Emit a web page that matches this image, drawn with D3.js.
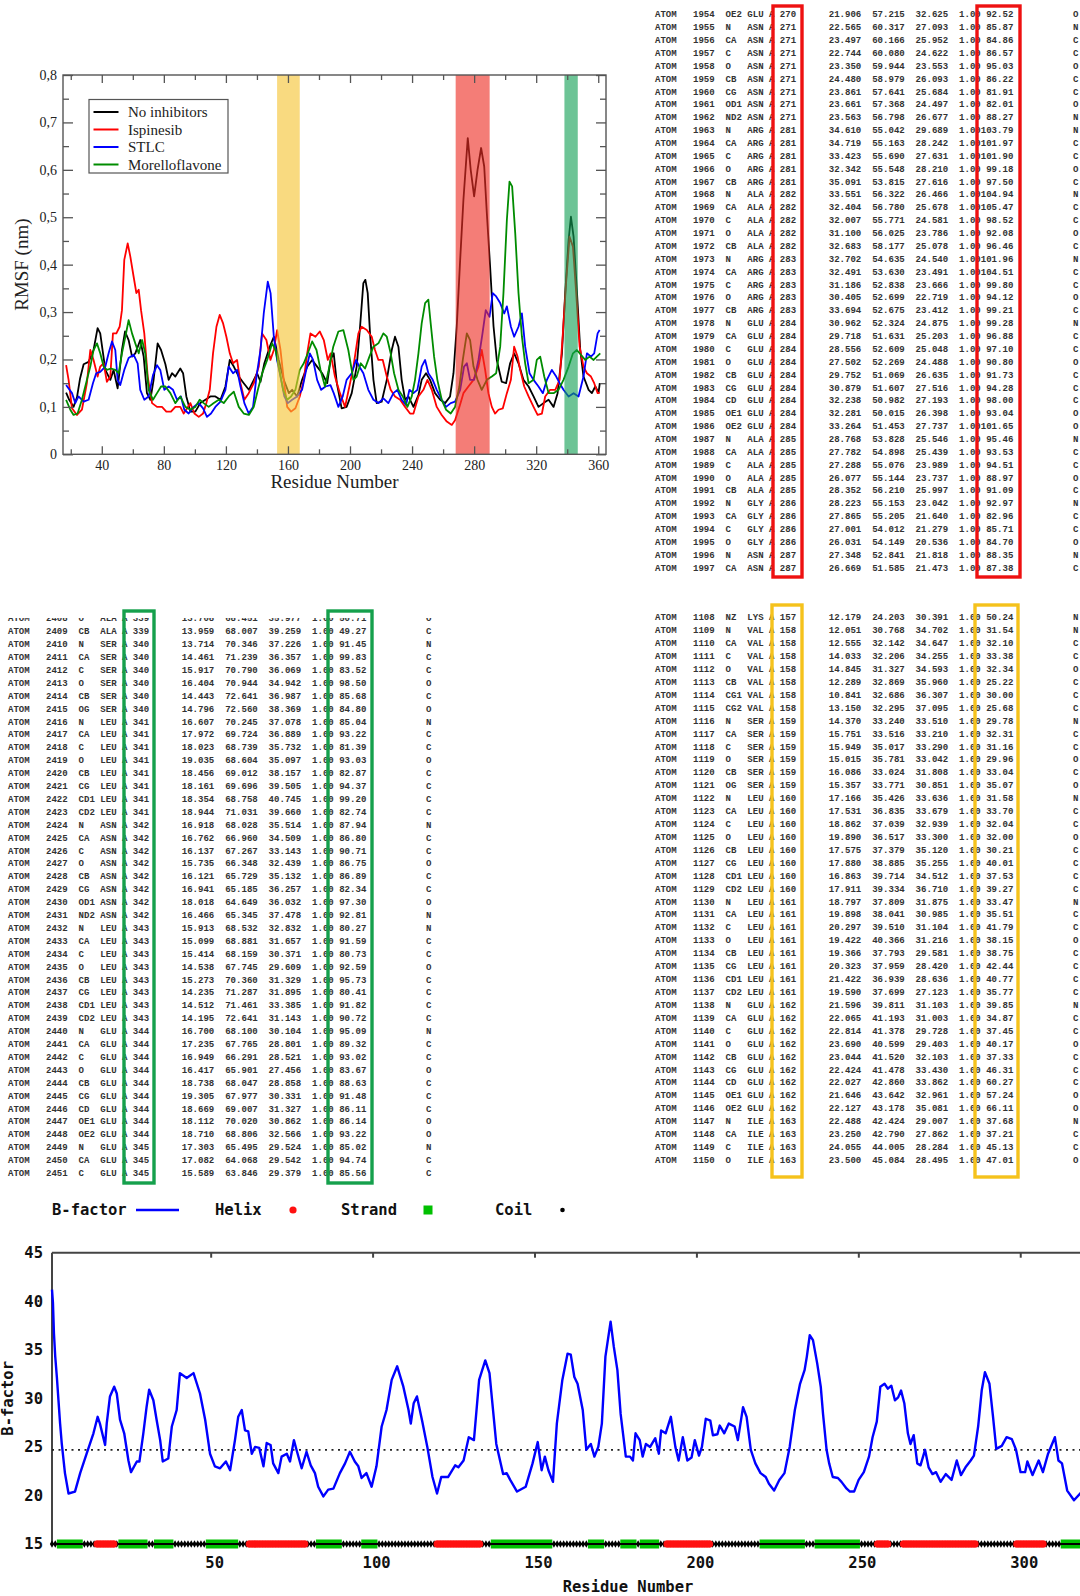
<!DOCTYPE html>
<html>
<head>
<meta charset="utf-8">
<script src="https://cdn.jsdelivr.net/npm/d3@7"></script>
<style>
  body { margin: 0; background: #fff; }
</style>
</head>
<body>
<div id="chart"></div>
<script>
// ---- RMSF per residue (residue, nm) ----
const noInhibitors = [
  [17,0.13],[19,0.115],[21.8,0.10],[24,0.12],[26,0.16],[28.3,0.19],[31.5,0.195],[34.7,0.22],[37.3,0.266],[39,0.255],
  [42.3,0.178],[45.5,0.157],[47.6,0.178],[50.2,0.139],[53,0.22],[55,0.259],[57.3,0.241],[59.5,0.206],[61.6,0.213],[64.8,0.241],
  [67,0.206],[69.1,0.129],[71.3,0.115],[73.4,0.157],[76,0.234],[78.2,0.22],[81,0.19],[83.1,0.157],[85.3,0.171],[87.4,0.164],
  [90.6,0.181],[92.4,0.171],[94.5,0.122],[97.1,0.09],[100.3,0.09],[103.5,0.108],[106.8,0.115],[110,0.122],[113.2,0.122],[116.5,0.115],
  [119.7,0.143],[122.5,0.199],[125.1,0.185],[128.3,0.164],[131.5,0.15],[134.8,0.136],[138,0.157],[140.1,0.171],[142.3,0.153],[144.8,0.192],
  [148.3,0.227],[150.9,0.248],[154.1,0.199],[157.3,0.157],[160.6,0.129],[162.7,0.136],[165.9,0.122],[169.1,0.157],[172.4,0.185],[175.6,0.199],
  [178.8,0.185],[182,0.171],[185.3,0.15],[187.5,0.2],[189.5,0.213],[191.5,0.15],[194.6,0.097],[197.8,0.10],[201.1,0.129],[204.3,0.185],
  [206.5,0.27],[208.6,0.361],[209.9,0.368],[211.4,0.34],[212.9,0.255],[215.1,0.157],[217.2,0.108],[220.4,0.111],[223.7,0.157],[226.9,0.22],
  [229,0.248],[231.2,0.227],[233.3,0.157],[235.5,0.115],[237.6,0.122],[240.9,0.10],[244.1,0.125],[246.2,0.157],[249,0.171],[251.6,0.157],
  [254.8,0.129],[258.1,0.115],[261.3,0.108],[264.5,0.122],[266.7,0.171],[268.8,0.27],[271,0.41],[273.1,0.537],[275.9,0.667],[277.8,0.60],
  [280,0.544],[282.2,0.60],[284.5,0.646],[286.5,0.607],[288.2,0.508],[290.3,0.396],[292.5,0.27],[294.6,0.199],[297.8,0.153],[300.6,0.15],
  [303.2,0.192],[305.8,0.213],[308.6,0.192],[311.8,0.157],[315.1,0.143],[318.3,0.122],[321.5,0.10],[324.7,0.108],[328,0.115],[331.2,0.10],
  [333.8,0.129],[336.6,0.213],[338.7,0.34],[340.9,0.452],[342.4,0.501],[344.1,0.459],[346.2,0.347],[348.4,0.22],[350.5,0.164],[353.8,0.136],
  [355.9,0.129],[358.1,0.143],[360.2,0.13],[361,0.15]
]
const ispinesib = [
  [17,0.188],[18.6,0.157],[20.8,0.097],[24,0.083],[27.2,0.094],[30.4,0.15],[32.6,0.22],[34.7,0.199],[37.3,0.164],[39,0.185],
  [41.2,0.192],[43.3,0.153],[45.5,0.164],[47.2,0.255],[49.4,0.255],[51.5,0.269],[53,0.304],[54.5,0.41],[56.7,0.445],[58.4,0.417],
  [60.5,0.375],[62.3,0.34],[63.8,0.347],[65.3,0.304],[67.4,0.255],[69.6,0.164],[72.4,0.108],[75.6,0.10],[78.8,0.10],[81.6,0.09],
  [84.6,0.09],[87.4,0.10],[90.6,0.10],[92.8,0.086],[95,0.097],[97.1,0.108],[99.7,0.086],[102.5,0.079],[105.3,0.086],[107.4,0.108],
  [109.6,0.136],[111.7,0.213],[113.9,0.269],[116,0.294],[118.2,0.276],[120.3,0.248],[122.5,0.213],[124.6,0.192],[127.2,0.199],[129.4,0.15],
  [131.9,0.115],[134.7,0.129],[138,0.15],[141.2,0.185],[143.3,0.255],[146.1,0.241],[148.7,0.199],[150.9,0.22],[153,0.262],[155.2,0.22],
  [157.3,0.157],[159.5,0.10],[162,0.09],[164.8,0.097],[167.6,0.122],[170.2,0.157],[172.4,0.213],[174.5,0.255],[177.7,0.248],[180.5,0.259],
  [183.1,0.241],[185.7,0.199],[187.5,0.213],[190.3,0.164],[193.5,0.129],[196.8,0.10],[199.6,0.143],[202.2,0.185],[205.4,0.255],[207.5,0.269],
  [210.8,0.262],[214,0.248],[216.1,0.22],[218.3,0.199],[221.1,0.199],[223.7,0.164],[226.2,0.136],[229,0.122],[232.3,0.115],[235.5,0.10],
  [238.7,0.086],[240.9,0.086],[244.1,0.122],[247.3,0.136],[249.9,0.157],[252.7,0.136],[255.9,0.10],[259.1,0.083],[262.4,0.069],[265.6,0.062],
  [267.7,0.072],[270.5,0.10],[273.1,0.129],[276.3,0.143],[279.6,0.157],[282.8,0.185],[284.9,0.22],[287.1,0.178],[289.2,0.129],[291.4,0.10],
  [293.5,0.086],[295.7,0.094],[298.5,0.097],[301.1,0.129],[303.7,0.157],[305.8,0.227],[308,0.206],[309.7,0.178],[312.3,0.143],[315.1,0.122],
  [318.3,0.10],[320.9,0.083],[323.7,0.086],[325.8,0.122],[329,0.136],[332.3,0.136],[335.1,0.157],[337.2,0.255],[339.4,0.368],[341.5,0.459],
  [343.7,0.438],[345.8,0.34],[348,0.227],[350.5,0.185],[352.7,0.171],[355.3,0.164],[357.4,0.15],[359.6,0.129],[361,0.13]
]
const stlc = [
  [17,0.146],[20.8,0.129],[22.9,0.108],[25,0.122],[28.3,0.111],[31.5,0.115],[34.3,0.15],[36.4,0.171],[39,0.174],[42.3,0.185],
  [44.4,0.213],[46.6,0.238],[48.7,0.22],[50.2,0.157],[51.9,0.146],[54.5,0.178],[57.3,0.203],[60.5,0.21],[63.1,0.192],[64.8,0.136],
  [67.4,0.115],[70.2,0.122],[73,0.167],[75.6,0.188],[77.7,0.178],[80.3,0.136],[83.1,0.143],[85.9,0.136],[88.5,0.115],[91,0.122],
  [93.2,0.094],[96,0.086],[99.2,0.10],[102.5,0.108],[105.3,0.097],[107.8,0.079],[110.4,0.086],[113.2,0.10],[116.5,0.111],[119.7,0.136],
  [121.8,0.185],[124.6,0.171],[127.2,0.178],[129.4,0.143],[131.9,0.108],[134.7,0.086],[137.5,0.10],[139.7,0.164],[142.3,0.22],[144.4,0.297],
  [147,0.364],[148.8,0.34],[150.9,0.248],[153,0.199],[155.6,0.157],[157.7,0.122],[159.9,0.108],[162.7,0.115],[165.9,0.122],[169.1,0.136],
  [171.3,0.171],[174.1,0.213],[176.2,0.199],[178.8,0.157],[181.4,0.136],[184.2,0.143],[187.4,0.146],[189.5,0.129],[192.5,0.10],[195.3,0.122],
  [197.8,0.157],[201.1,0.171],[203.9,0.199],[206,0.185],[208.6,0.171],[211.8,0.136],[215.1,0.115],[218.3,0.108],[221.5,0.118],[224.7,0.108],
  [228,0.129],[230.5,0.136],[233.3,0.115],[236.1,0.104],[238.3,0.136],[240.9,0.129],[243.4,0.136],[246.2,0.185],[248.4,0.199],[250.5,0.171],
  [253.3,0.157],[255.9,0.136],[259.1,0.115],[261.9,0.10],[264.9,0.108],[267.7,0.111],[271,0.136],[273.5,0.185],[275.3,0.192],[277.4,0.157],
  [280,0.157],[282.8,0.199],[285.4,0.255],[287.5,0.304],[289.9,0.29],[292,0.34],[294.2,0.333],[296.8,0.319],[299.4,0.297],[301.1,0.312],
  [303.7,0.269],[305.8,0.248],[308.6,0.269],[310.8,0.297],[312.9,0.227],[315.7,0.171],[318.3,0.157],[321.5,0.143],[324.3,0.129],[326.9,0.157],
  [330.1,0.178],[332.9,0.164],[335.1,0.15],[337.6,0.136],[340.9,0.122],[344.1,0.129],[347.3,0.122],[350.5,0.164],[352.7,0.213],[355.3,0.206],
  [357.4,0.213],[359.6,0.255],[360.9,0.262]
]
const morelloflavone = [
  [17,0.115],[19.7,0.094],[21.8,0.083],[24.4,0.086],[27.2,0.115],[30.4,0.157],[32.6,0.185],[34.7,0.22],[36.9,0.234],[39,0.213],
  [41.2,0.185],[43.3,0.178],[45.9,0.181],[48.7,0.178],[50.9,0.171],[53,0.213],[55.2,0.248],[57.3,0.283],[59.5,0.255],[61.6,0.234],
  [63.8,0.213],[66,0.241],[68,0.213],[70.2,0.136],[73,0.115],[75.6,0.129],[78.2,0.143],[81,0.143],[84.2,0.129],[87.4,0.108],
  [90.6,0.122],[93.9,0.10],[97.1,0.094],[100.3,0.10],[103.1,0.115],[105.7,0.108],[108.9,0.10],[112.2,0.108],[115.4,0.115],[118.6,0.108],
  [121.8,0.122],[125.1,0.132],[128.3,0.10],[131.5,0.086],[134.8,0.083],[138,0.10],[140.6,0.136],[143.4,0.171],[146.6,0.199],[149.8,0.234],
  [152,0.22],[154.1,0.185],[156.9,0.136],[159.5,0.115],[162,0.122],[164.8,0.136],[167.6,0.178],[170.2,0.192],[172.8,0.213],[175.6,0.238],
  [178.4,0.22],[181,0.178],[183.9,0.143],[186,0.174],[189.2,0.227],[192.5,0.259],[195.7,0.262],[198.9,0.22],[202.2,0.157],[204.3,0.164],
  [206.9,0.192],[209.7,0.181],[212.5,0.206],[215.1,0.227],[218.3,0.234],[221.5,0.255],[223.7,0.248],[226.2,0.213],[228.4,0.171],[231.2,0.136],
  [234,0.122],[237,0.10],[239.8,0.122],[241.9,0.157],[244.1,0.213],[246.2,0.276],[248.4,0.319],[250.5,0.326],[252,0.276],[254.2,0.206],
  [256.3,0.157],[259.1,0.115],[261.9,0.094],[264.9,0.086],[267.7,0.10],[270.5,0.143],[272.7,0.199],[275.3,0.255],[277.4,0.241],[279.6,0.185],
  [282.2,0.157],[284.9,0.136],[288.2,0.157],[291.4,0.164],[294.2,0.171],[296.8,0.227],[298.9,0.34],[301.1,0.494],[302.8,0.575],[304.5,0.565],
  [306.5,0.466],[308.6,0.34],[310.8,0.248],[312.9,0.192],[315.1,0.15],[318.3,0.157],[320.4,0.199],[322.6,0.206],[325.2,0.164],[328,0.129],
  [331.2,0.129],[334.4,0.136],[337.6,0.157],[340.9,0.185],[343.7,0.213],[346.2,0.22],[348.8,0.21],[351.6,0.199],[354.4,0.206],[357,0.199],
  [359.1,0.206],[361.3,0.213]
]
const rmsfSeries = [
  { name: 'No inhibitors', color: '#000000', values: noInhibitors },
  { name: 'Ispinesib', color: '#ff0000', values: ispinesib },
  { name: 'STLC', color: '#0000ff', values: stlc },
  { name: 'Morelloflavone', color: '#008c00', values: morelloflavone }
]
// highlighted residue ranges
const bands = [
  { from: 153, to: 167.6, color: 'rgb(245,195,50)' },
  { from: 268.1, to: 290, color: 'rgb(238,45,35)' },
  { from: 338.2, to: 346.8, color: 'rgb(20,160,85)' }
]
const rmsfXTicks = [40, 80, 120, 160, 200, 240, 280, 320, 360]
const rmsfYTicks = [0, 0.1, 0.2, 0.3, 0.4, 0.5, 0.6, 0.7, 0.8]

// ---- PDB excerpts: serial name resName resSeq x y z B element ----
const pdbLoop270 = [
  '1954 OE2 GLU 270 21.906 57.215 32.625 92.52 O',
  '1955 N ASN 271 22.565 60.317 27.093 85.87 N',
  '1956 CA ASN 271 23.497 60.166 25.952 84.86 C',
  '1957 C ASN 271 22.744 60.080 24.622 86.57 C',
  '1958 O ASN 271 23.350 59.944 23.553 95.03 O',
  '1959 CB ASN 271 24.480 58.979 26.093 86.22 C',
  '1960 CG ASN 271 23.861 57.641 25.684 81.91 C',
  '1961 OD1 ASN 271 23.661 57.368 24.497 82.01 O',
  '1962 ND2 ASN 271 23.563 56.798 26.677 88.27 N',
  '1963 N ARG 281 34.610 55.042 29.689 103.79 N',
  '1964 CA ARG 281 34.719 55.163 28.242 101.97 C',
  '1965 C ARG 281 33.423 55.690 27.631 101.90 C',
  '1966 O ARG 281 32.342 55.548 28.210 99.18 O',
  '1967 CB ARG 281 35.091 53.815 27.616 97.50 C',
  '1968 N ALA 282 33.551 56.322 26.466 104.94 N',
  '1969 CA ALA 282 32.404 56.780 25.678 105.47 C',
  '1970 C ALA 282 32.007 55.771 24.581 98.52 C',
  '1971 O ALA 282 31.100 56.025 23.786 92.08 O',
  '1972 CB ALA 282 32.683 58.177 25.078 96.46 C',
  '1973 N ARG 283 32.702 54.635 24.540 101.96 N',
  '1974 CA ARG 283 32.491 53.630 23.491 104.51 C',
  '1975 C ARG 283 31.186 52.838 23.666 99.80 C',
  '1976 O ARG 283 30.405 52.699 22.719 94.12 O',
  '1977 CB ARG 283 33.694 52.675 23.412 99.21 C',
  '1978 N GLU 284 30.962 52.324 24.875 99.28 N',
  '1979 CA GLU 284 29.718 51.631 25.203 96.88 C',
  '1980 C GLU 284 28.556 52.609 25.048 97.10 C',
  '1981 O GLU 284 27.502 52.269 24.488 90.80 O',
  '1982 CB GLU 284 29.752 51.069 26.635 91.73 C',
  '1983 CG GLU 284 30.879 51.607 27.516 94.28 C',
  '1984 CD GLU 284 32.238 50.982 27.193 98.00 C',
  '1985 OE1 GLU 284 32.281 50.015 26.398 93.04 O',
  '1986 OE2 GLU 284 33.264 51.453 27.737 101.65 O',
  '1987 N ALA 285 28.768 53.828 25.546 95.46 N',
  '1988 CA ALA 285 27.782 54.898 25.439 93.53 C',
  '1989 C ALA 285 27.288 55.076 23.989 94.51 C',
  '1990 O ALA 285 26.077 55.144 23.737 88.97 O',
  '1991 CB ALA 285 28.352 56.210 25.997 91.09 C',
  '1992 N GLY 286 28.223 55.153 23.042 92.97 N',
  '1993 CA GLY 286 27.865 55.205 21.640 82.96 C',
  '1994 C GLY 286 27.001 54.012 21.279 85.71 C',
  '1995 O GLY 286 26.031 54.149 20.536 84.70 O',
  '1996 N ASN 287 27.348 52.841 21.818 88.35 N',
  '1997 CA ASN 287 26.669 51.585 21.473 87.38 C'
]
const pdbLoop339 = [
  '2408 O ALA 339 13.708 68.451 35.977 50.71 O',
  '2409 CB ALA 339 13.959 68.007 39.259 49.27 C',
  '2410 N SER 340 13.714 70.346 37.226 91.45 N',
  '2411 CA SER 340 14.461 71.239 36.357 99.83 C',
  '2412 C SER 340 15.917 70.790 36.069 83.52 C',
  '2413 O SER 340 16.404 70.944 34.942 98.50 O',
  '2414 CB SER 340 14.443 72.641 36.987 85.68 C',
  '2415 OG SER 340 14.796 72.560 38.369 84.80 O',
  '2416 N LEU 341 16.607 70.245 37.078 85.04 N',
  '2417 CA LEU 341 17.972 69.724 36.889 93.22 C',
  '2418 C LEU 341 18.023 68.739 35.732 81.39 C',
  '2419 O LEU 341 19.035 68.604 35.097 93.03 O',
  '2420 CB LEU 341 18.456 69.012 38.157 82.87 C',
  '2421 CG LEU 341 18.161 69.696 39.505 94.37 C',
  '2422 CD1 LEU 341 18.354 68.758 40.745 99.20 C',
  '2423 CD2 LEU 341 18.944 71.031 39.660 82.74 C',
  '2424 N ASN 342 16.918 68.028 35.514 87.94 N',
  '2425 CA ASN 342 16.762 66.960 34.509 86.80 C',
  '2426 C ASN 342 16.137 67.267 33.143 90.71 C',
  '2427 O ASN 342 15.735 66.348 32.439 86.75 O',
  '2428 CB ASN 342 16.121 65.729 35.132 86.89 C',
  '2429 CG ASN 342 16.941 65.185 36.257 82.34 C',
  '2430 OD1 ASN 342 18.018 64.649 36.032 97.30 O',
  '2431 ND2 ASN 342 16.466 65.345 37.478 92.81 N',
  '2432 N LEU 343 15.913 68.532 32.832 80.27 N',
  '2433 CA LEU 343 15.099 68.881 31.657 91.59 C',
  '2434 C LEU 343 15.414 68.159 30.371 80.73 C',
  '2435 O LEU 343 14.538 67.745 29.609 92.59 O',
  '2436 CB LEU 343 15.273 70.360 31.329 95.73 C',
  '2437 CG LEU 343 14.235 71.287 31.895 80.41 C',
  '2438 CD1 LEU 343 14.512 71.461 33.385 91.82 C',
  '2439 CD2 LEU 343 14.195 72.641 31.143 90.72 C',
  '2440 N GLU 344 16.700 68.100 30.104 95.09 N',
  '2441 CA GLU 344 17.235 67.765 28.801 89.32 C',
  '2442 C GLU 344 16.949 66.291 28.521 93.02 C',
  '2443 O GLU 344 16.417 65.901 27.456 83.67 O',
  '2444 CB GLU 344 18.738 68.047 28.858 88.63 C',
  '2445 CG GLU 344 19.305 67.977 30.331 91.48 C',
  '2446 CD GLU 344 18.669 69.007 31.327 86.11 C',
  '2447 OE1 GLU 344 18.112 70.020 30.862 86.14 O',
  '2448 OE2 GLU 344 18.710 68.806 32.566 93.22 O',
  '2449 N GLU 345 17.303 65.495 29.524 85.02 N',
  '2450 CA GLU 345 17.082 64.068 29.542 94.74 C',
  '2451 C GLU 345 15.589 63.846 29.379 85.56 C'
]
const pdbLoop157 = [
  '1108 NZ LYS 157 12.179 24.203 30.391 50.24 N',
  '1109 N VAL 158 12.051 30.768 34.702 31.54 N',
  '1110 CA VAL 158 12.555 32.142 34.647 32.10 C',
  '1111 C VAL 158 14.033 32.206 34.255 33.38 C',
  '1112 O VAL 158 14.845 31.327 34.593 32.34 O',
  '1113 CB VAL 158 12.289 32.869 35.960 25.22 C',
  '1114 CG1 VAL 158 10.841 32.686 36.307 30.00 C',
  '1115 CG2 VAL 158 13.150 32.295 37.095 25.68 C',
  '1116 N SER 159 14.370 33.240 33.510 29.78 N',
  '1117 CA SER 159 15.751 33.516 33.210 32.31 C',
  '1118 C SER 159 15.949 35.017 33.290 31.16 C',
  '1119 O SER 159 15.015 35.781 33.042 29.96 O',
  '1120 CB SER 159 16.086 33.024 31.808 33.04 C',
  '1121 OG SER 159 15.357 33.771 30.851 35.07 O',
  '1122 N LEU 160 17.166 35.426 33.636 31.58 N',
  '1123 CA LEU 160 17.531 36.835 33.679 33.70 C',
  '1124 C LEU 160 18.862 37.039 32.939 32.04 C',
  '1125 O LEU 160 19.890 36.517 33.300 32.00 O',
  '1126 CB LEU 160 17.575 37.379 35.120 30.21 C',
  '1127 CG LEU 160 17.880 38.885 35.255 40.01 C',
  '1128 CD1 LEU 160 16.863 39.714 34.512 37.53 C',
  '1129 CD2 LEU 160 17.911 39.334 36.710 39.27 C',
  '1130 N LEU 161 18.797 37.809 31.875 33.47 N',
  '1131 CA LEU 161 19.898 38.041 30.985 35.51 C',
  '1132 C LEU 161 20.297 39.510 31.104 41.79 C',
  '1133 O LEU 161 19.422 40.366 31.216 38.15 O',
  '1134 CB LEU 161 19.366 37.793 29.581 38.75 C',
  '1135 CG LEU 161 20.323 37.959 28.420 42.44 C',
  '1136 CD1 LEU 161 21.422 36.939 28.636 40.77 C',
  '1137 CD2 LEU 161 19.590 37.699 27.123 35.77 C',
  '1138 N GLU 162 21.596 39.811 31.103 39.85 N',
  '1139 CA GLU 162 22.065 41.193 31.003 34.87 C',
  '1140 C GLU 162 22.814 41.378 29.728 37.45 C',
  '1141 O GLU 162 23.690 40.599 29.403 40.17 O',
  '1142 CB GLU 162 23.044 41.520 32.103 37.33 C',
  '1143 CG GLU 162 22.424 41.478 33.430 46.31 C',
  '1144 CD GLU 162 22.027 42.860 33.862 60.27 C',
  '1145 OE1 GLU 162 21.646 43.642 32.961 57.24 O',
  '1146 OE2 GLU 162 22.127 43.178 35.081 66.11 O',
  '1147 N ILE 163 22.488 42.424 29.007 37.68 N',
  '1148 CA ILE 163 23.250 42.790 27.862 37.21 C',
  '1149 C ILE 163 24.055 44.005 28.284 45.13 C',
  '1150 O ILE 163 23.500 45.084 28.495 47.01 O'
]

// ---- B-factor profile (residue, B) ----
const bfactor = [
  [1,41.2],[1.3,39.8],[1.6,36.7],[2,34.3],[2.5,32.2],[3,29.8],[3.5,27.4],[4,25.4],[5,22.3],[6.1,20.2],
  [8.1,20.4],[9.7,22.3],[11.7,24.3],[13.8,26.4],[15.1,28.1],[15.8,27.4],[17.4,25.2],[17.9,27.4],[18.9,30.2],[20.2,31.2],
  [21,30.5],[22,27.8],[23.3,26.4],[24.6,23.6],[25.4,22.4],[27.2,23.5],[28,23.5],[29.2,26.4],[30.2,29.1],[31,30.9],
  [32.3,29.8],[33.3,27.8],[34.4,25.7],[35.2,23.5],[36.9,23.8],[38,27.1],[39.5,28.8],[40.5,32.6],[42.6,32.1],[44.7,32.6],
  [46.7,30.5],[48.3,27.8],[49.8,24.3],[51.3,23],[52.9,22.8],[54.7,23.5],[56,22.6],[57.5,25.7],[58.5,28.1],[59.6,28.8],
  [60.6,26.7],[61.6,26.6],[62.7,24.3],[63.7,25],[65,24.9],[66.3,23],[67.3,25.4],[68.5,25.2],[69.3,23.3],[70.9,22.3],
  [71.9,24],[73.5,24.3],[74.5,23.5],[75.7,25.7],[76.5,24.7],[78.1,22.8],[79.6,24.5],[80.9,23.1],[82.2,22.3],[83.2,20.9],
  [84.8,19.9],[86.3,20.6],[87.9,20.7],[89.9,22.3],[91.5,23.3],[93,24.5],[94.5,23.5],[95.6,23],[96.6,21.8],[98.1,22.3],
  [99.7,20.9],[101.2,23],[102.8,27.1],[104.3,28.8],[105.9,31.9],[107.6,33.3],[109.5,31.2],[111.1,28.8],[111.8,27.4],[112.7,29.5],
  [113.7,30.2],[115.3,27.7],[116.9,25],[118.5,21.9],[119.9,20.2],[121.2,21.9],[123.3,21.9],[125.5,23.1],[126.5,22.9],[128.1,23.6],
  [129.7,26],[131.3,25.7],[132.9,31.9],[134.8,33.9],[136.1,32.6],[138.2,25.3],[140.3,22.2],[141.4,22.3],[142.5,21.6],[144.6,20.4],
  [147.3,20.9],[149.4,23.3],[151,25.5],[152.2,22.6],[153.2,24],[154.3,22.6],[155.7,21.4],[156.9,27.4],[158.6,31.9],[160.2,34.6],
  [161.2,34.5],[162.3,32.2],[163.3,31.5],[164.9,28.8],[166,24.7],[167.4,25.3],[168.5,24],[169.7,25],[170.8,27.4],[171.9,34.3],
  [173.5,37.9],[174.5,35.3],[175.6,32.9],[176.6,28.4],[178.2,24],[179.5,24],[180.4,23.6],[181.2,26.4],[182.5,25.7],[183.4,24],
  [184.4,25.3],[185.7,25],[187.3,25.9],[188.4,24.3],[189.1,26.7],[190.5,26.4],[192.1,28.1],[193.5,25],[194.5,23.6],[195.8,26],
  [197.2,23.6],[198.5,23.9],[199.5,25.7],[200.8,24.1],[201.7,25],[202.9,27.9],[204.3,27.7],[205.1,26.2],[206.5,26.3],[207.2,27.2],
  [208.6,26.4],[210,27.4],[211.8,27.1],[212.8,25.7],[214.4,29.1],[215.5,28.1],[216.8,24.7],[218.2,23.3],[219.8,22.3],[221.4,21.9],
  [222.4,21.2],[224,20.5],[225.6,21.6],[227.2,22.3],[228.8,25],[230.4,28.8],[232,31.5],[233.4,32.9],[234.1,34.3],[235,36.5],
  [236,36],[237.3,33.6],[238.4,31.2],[239.1,28.4],[240.2,24.7],[241,23.3],[242.1,21.9],[243.7,21.8],[244.8,21.4],[246.4,20.7],
  [247.4,20.4],[248.7,20.4],[250.1,21.6],[251.7,22.4],[253.3,24],[254.4,26],[255.7,27.6],[256.8,31.2],[258.1,31.5],[259.1,31],
  [260.2,31.3],[261.3,29.8],[262.3,30.1],[263.2,30.8],[264.2,29.5],[265.3,26.4],[266.1,25.3],[267.1,26.2],[268.2,23.3],[269.2,23.1],
  [270.6,24.7],[271.7,22.9],[272.9,22.2],[274,22.4],[275.4,21.4],[277,22.2],[278.8,21.6],[280.4,23.6],[281.7,22.1],[283.1,22.9],
  [284.7,23.6],[285.7,24.1],[287,27.1],[288.1,30.8],[289.1,32.7],[290.5,31.5],[291.6,28.1],[292.6,24.8],[294.3,25.1],[295.8,26],
  [297.4,25.8],[298.7,24.7],[300.1,22.4],[301.5,22.4],[302.2,23.5],[303.8,22.1],[305.7,23.6],[307,22.4],[308.6,24.3],[310.7,26],
  [311.8,23.6],[312.9,23.3],[314.5,20.5],[316.6,19.5],[318.5,20.2],[320,20.8]
]
const bMean = 24.7
const helixSegments = [[15, 20], [62, 79], [120, 133], [191, 204], [256, 259], [264, 286], [299, 307]]
const strandSegments = [[3, 10], [22, 30], [33, 38], [49, 53], [54, 58], [83, 90], [97, 101], [137, 155],
  [167, 171], [177, 181], [183, 188], [220, 233], [237, 250], [313, 322]]
const bXTicks = [50, 100, 150, 200, 250, 300]
const bYTicks = [15, 20, 25, 30, 35, 40, 45]

const svg = d3.select('#chart').append('svg')
  .attr('width', 1080)
  .attr('height', 1596)
  .style('background', '#fff')

// ================= RMSF chart =================
const serif = 'Liberation Serif, Times New Roman, serif'
const x = d3.scaleLinear().domain([15, 365]).range([63, 606])
const y = d3.scaleLinear().domain([0, 0.8]).range([454.3, 75])

const line = d3.line()
  .x(d => x(d[0]))
  .y(d => y(d[1]))

const rmsf = svg.append('g')

rmsfSeries.forEach(s => {
  rmsf.append('path')
    .datum(s.values)
    .attr('fill', 'none')
    .attr('stroke', s.color)
    .attr('stroke-width', 1.8)
    .attr('stroke-linejoin', 'round')
    .attr('d', line)
})

rmsf.selectAll('rect.band')
  .data(bands)
  .join('rect')
  .attr('class', 'band')
  .attr('x', d => x(d.from))
  .attr('width', d => x(d.to) - x(d.from))
  .attr('y', y(0.8))
  .attr('height', y(0) - y(0.8))
  .attr('fill', d => d.color)
  .attr('fill-opacity', 0.62)

const xMinor = d3.range(20, 361, 40)
const yMinor = d3.range(0, 16, 2).map(i => (i + 1) / 20)
const fmtComma = d => d === 0 ? '0' : d3.format('.1f')(d).replace('.', ',')

const tickAxis = (axis, tx, ty, values, size, labels) => {
  const g = rmsf.append('g')
    .attr('transform', `translate(${tx},${ty})`)
    .call(axis.tickValues(values).tickSize(-size).tickPadding(6)
      .tickFormat(labels || (() => '')))
  g.select('.domain').remove()
  g.selectAll('line').attr('stroke', '#555').attr('stroke-width', 1.3)
  g.selectAll('text')
    .attr('font-family', serif)
    .attr('font-size', 14)
    .attr('fill', '#222')
  return g
}

tickAxis(d3.axisBottom(x), 0, y(0), rmsfXTicks, 8, d => d)
tickAxis(d3.axisBottom(x), 0, y(0), xMinor, 5)
tickAxis(d3.axisTop(x), 0, y(0.8), rmsfXTicks, 8)
tickAxis(d3.axisTop(x), 0, y(0.8), xMinor, 5)
tickAxis(d3.axisLeft(y), x(15), 0, rmsfYTicks, 10, fmtComma)
tickAxis(d3.axisLeft(y), x(15), 0, yMinor, 6)
tickAxis(d3.axisRight(y), x(365), 0, rmsfYTicks, 10)
tickAxis(d3.axisRight(y), x(365), 0, yMinor, 6)

rmsf.append('rect')
  .attr('x', x(15))
  .attr('y', y(0.8))
  .attr('width', x(365) - x(15))
  .attr('height', y(0) - y(0.8))
  .attr('fill', 'none')
  .attr('stroke', '#555')
  .attr('stroke-width', 1.4)

rmsf.append('text')
  .attr('x', (x(15) + x(365)) / 2)
  .attr('y', 488)
  .attr('text-anchor', 'middle')
  .attr('font-family', serif)
  .attr('font-size', 19)
  .attr('fill', '#222')
  .text('Residue Number')

rmsf.append('text')
  .attr('transform', `translate(28,${(y(0) + y(0.8)) / 2}) rotate(-90)`)
  .attr('text-anchor', 'middle')
  .attr('font-family', serif)
  .attr('font-size', 19)
  .attr('fill', '#222')
  .text('RMSF (nm)')

// legend
const legend = rmsf.append('g')
legend.append('rect')
  .attr('x', 89).attr('y', 99.5)
  .attr('width', 139).attr('height', 73.5)
  .attr('fill', '#fff')
  .attr('stroke', '#555')
  .attr('stroke-width', 1.2)

rmsfSeries.forEach((s, i) => {
  const ly = 112 + i * 17.5
  legend.append('line')
    .attr('x1', 93.5).attr('x2', 118.5)
    .attr('y1', ly).attr('y2', ly)
    .attr('stroke', s.color)
    .attr('stroke-width', 2)
  legend.append('text')
    .attr('x', 128).attr('y', ly)
    .attr('dy', '0.35em')
    .attr('font-family', serif)
    .attr('font-size', 15)
    .attr('fill', '#222')
    .text(s.name)
})

// ================= PDB tables =================
const charW = 5.43
const mono = 'Liberation Mono, Courier New, monospace'

const pdbLine = r => {
  const [serial, name, resName, resSeq, ax, ay, az, b, el] = r.split(' ')
  return 'ATOM  ' + serial.padStart(5) + '  ' + name.padEnd(3) + ' ' + resName + ' A' +
    resSeq.padStart(4) + '    ' + ax.padStart(8) + ay.padStart(8) + az.padStart(8) +
    '  1.00' + b.padStart(6) + ' '.repeat(11) + el
}

const drawTable = ({ rows, x0, y0, rowH, color, boxes, clipTop }) => {
  const g = svg.append('g')
  let body = g
  if (clipTop) {
    const id = 'clip' + x0 + '_' + y0
    g.append('clipPath').attr('id', id)
      .append('rect').attr('x', 0).attr('y', clipTop).attr('width', 1080).attr('height', 1596 - clipTop)
    body = g.append('g').attr('clip-path', `url(#${id})`)
  }
  body.selectAll('text')
    .data(rows)
    .join('text')
    .attr('x', x0)
    .attr('y', (d, i) => y0 + i * rowH + 3.3)
    .attr('xml:space', 'preserve')
    .style('white-space', 'pre')
    .attr('font-family', mono)
    .attr('font-size', charW / 0.6)
    .attr('font-weight', 'bold')
    .attr('fill', '#333')
    .text(pdbLine)

  g.selectAll('rect.box')
    .data(boxes)
    .join('rect')
    .attr('class', 'box')
    .attr('x', d => d[0])
    .attr('y', d => d[1])
    .attr('width', d => d[2] - d[0])
    .attr('height', d => d[3] - d[1])
    .attr('fill', 'none')
    .attr('stroke', color)
    .attr('stroke-width', 3.4)
}

drawTable({
  rows: pdbLoop270, x0: 655, y0: 14, rowH: 12.87, color: '#ee1111',
  boxes: [[773, 6, 802, 577], [977, 6, 1020, 577]]
})
drawTable({
  rows: pdbLoop339, x0: 8, y0: 618, rowH: 12.9, color: '#15a04c', clipTop: 618,
  boxes: [[124, 611, 154, 1183], [328, 611, 372, 1183]]
})
drawTable({
  rows: pdbLoop157, x0: 655, y0: 617, rowH: 12.92, color: '#f5c21c',
  boxes: [[772, 605, 802, 1177], [975, 605, 1018, 1177]]
})

// ================= B-factor chart =================
const gmono = 'DejaVu Sans Mono, Liberation Mono, monospace'
const xb = d3.scaleLinear().domain([1, 320]).range([52, 1085])
const yb = d3.scaleLinear().domain([15, 45]).range([1544, 1252.7])
const bchart = svg.append('g')

const txt = (g, tx, ty, s, anchor) => g.append('text')
  .attr('x', tx).attr('y', ty)
  .attr('text-anchor', anchor || 'start')
  .attr('font-family', gmono)
  .attr('font-weight', 'bold')
  .attr('font-size', 15.5)
  .attr('fill', '#111')
  .text(s)

// legend row
const ly = 1210
txt(bchart, 52, ly + 5, 'B-factor')
bchart.append('line').attr('x1', 136).attr('x2', 179).attr('y1', ly).attr('y2', ly)
  .attr('stroke', '#0000ff').attr('stroke-width', 2.6)
txt(bchart, 215, ly + 5, 'Helix')
bchart.append('circle').attr('cx', 293).attr('cy', ly).attr('r', 3.6).attr('fill', '#ff1010')
txt(bchart, 341, ly + 5, 'Strand')
bchart.append('rect').attr('x', 423.5).attr('y', ly - 4.5).attr('width', 9).attr('height', 9).attr('fill', '#00c000')
txt(bchart, 495, ly + 5, 'Coil')
bchart.append('circle').attr('cx', 562.5).attr('cy', ly).attr('r', 2.3).attr('fill', '#000')

// frame: top + left
bchart.append('line').attr('x1', xb(1)).attr('x2', 1080).attr('y1', yb(45)).attr('y2', yb(45))
  .attr('stroke', '#444').attr('stroke-width', 2)
bchart.append('line').attr('x1', xb(1)).attr('x2', xb(1)).attr('y1', yb(45)).attr('y2', yb(15))
  .attr('stroke', '#444').attr('stroke-width', 2)

const topAxis = bchart.append('g')
  .attr('transform', `translate(0,${yb(45)})`)
  .call(d3.axisTop(xb).tickValues(bXTicks).tickSize(-5).tickFormat(() => ''))
topAxis.select('.domain').remove()
topAxis.selectAll('line').attr('stroke', '#444').attr('stroke-width', 2)

const leftAxis = bchart.append('g')
  .attr('transform', `translate(${xb(1)},0)`)
  .call(d3.axisLeft(yb).tickValues(bYTicks).tickSize(0).tickPadding(9))
leftAxis.select('.domain').remove()
leftAxis.selectAll('text')
  .attr('font-family', gmono)
  .attr('font-weight', 'bold')
  .attr('font-size', 15.5)
  .attr('fill', '#111')

bXTicks.forEach(t => txt(bchart, xb(t) + 4, 1568, t, 'middle'))
txt(bchart, 628, 1592, 'Residue Number', 'middle')
bchart.append('text')
  .attr('transform', `translate(13,${(yb(15) + yb(45)) / 2}) rotate(-90)`)
  .attr('text-anchor', 'middle')
  .attr('font-family', gmono)
  .attr('font-weight', 'bold')
  .attr('font-size', 15.5)
  .attr('fill', '#111')
  .text('B-factor')

// mean line
bchart.append('line')
  .attr('x1', xb(1)).attr('x2', 1080)
  .attr('y1', yb(bMean)).attr('y2', yb(bMean))
  .attr('stroke', '#222')
  .attr('stroke-width', 1.8)
  .attr('stroke-dasharray', '2,4.5')

// B-factor line
bchart.append('path')
  .datum(bfactor)
  .attr('fill', 'none')
  .attr('stroke', '#0000ff')
  .attr('stroke-width', 2.4)
  .attr('stroke-linejoin', 'round')
  .attr('d', d3.line().x(d => xb(d[0])).y(d => yb(d[1])))

// secondary structure track at B = 15
const ssY = yb(15)
bchart.selectAll('rect.strand')
  .data(strandSegments)
  .join('rect')
  .attr('class', 'strand')
  .attr('x', d => xb(d[0] - 0.5))
  .attr('width', d => xb(d[1] + 0.5) - xb(d[0] - 0.5))
  .attr('y', ssY - 4.5)
  .attr('height', 9)
  .attr('fill', '#00c000')

bchart.append('line')
  .attr('x1', xb(1)).attr('x2', 1080)
  .attr('y1', ssY).attr('y2', ssY)
  .attr('stroke', '#000')
  .attr('stroke-width', 2)

const inSeg = (r, segs) => segs.some(s => r >= s[0] && r <= s[1])
const residues = d3.range(1, 321)
const coil = residues.filter(r => !inSeg(r, helixSegments) && !inSeg(r, strandSegments))
const helix = residues.filter(r => inSeg(r, helixSegments))

bchart.selectAll('path.coil')
  .data(coil)
  .join('path')
  .attr('class', 'coil')
  .attr('transform', d => `translate(${xb(d)},${ssY})`)
  .attr('d', d3.symbol(d3.symbolDiamond, 16))
  .attr('fill', '#000')

bchart.selectAll('circle.helix')
  .data(helix)
  .join('circle')
  .attr('class', 'helix')
  .attr('cx', d => xb(d))
  .attr('cy', ssY)
  .attr('r', 3.8)
  .attr('fill', '#ff1010')
</script>
</body>
</html>
